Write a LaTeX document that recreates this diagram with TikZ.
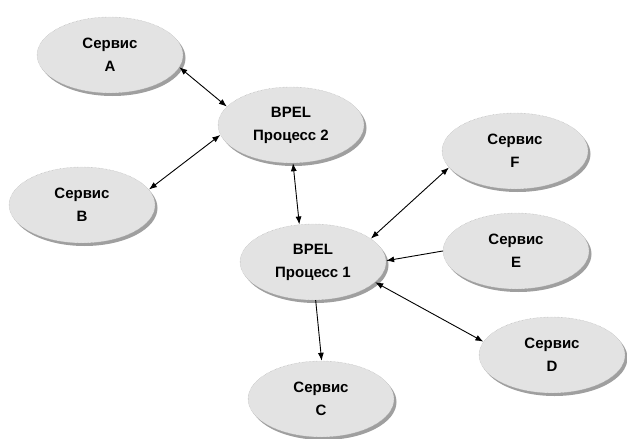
\documentclass[tikz,border=0pt]{standalone}
\usepackage{fontspec}
\setmainfont{Liberation Sans}
\usetikzlibrary{positioning}
\usetikzlibrary{shapes.geometric}
\usetikzlibrary{shadows}
\usetikzlibrary{arrows.meta}
\tikzstyle{srvnode} = [draw=gray!70, densely dotted, ellipse, fill=gray!22, minimum width=146pt, minimum height=76pt, align=center, font=\bfseries\fontsize{15}{23}\selectfont, drop shadow={shadow xshift=2.5pt, shadow yshift=-3pt, fill=gray!75, opacity=1}]
\tikzstyle{link} = [line width=0.9pt, {Latex[length=8pt,width=6pt]}-{Latex[length=8pt,width=6pt]}]
\tikzstyle{onelink} = [line width=0.9pt, -{Latex[length=8pt,width=6pt]}]

\begin{document}
\begin{tikzpicture}[x=1pt, y=1pt]
  \useasboundingbox (0,0) rectangle (627,-439);

  \node[srvnode] (a) at (110,-55) {Сервис\\A};
  \node[srvnode] (b) at (82,-205) {Сервис\\B};
  \node[srvnode] (proc2) at (291,-125) {BPEL\\Процесс 2};
  \node[srvnode] (proc1) at (313,-262) {BPEL\\Процесс 1};
  \node[srvnode] (f) at (515,-151) {Сервис\\F};
  \node[srvnode] (e) at (516,-251) {Сервис\\E};
  \node[srvnode] (d) at (552,-355) {Сервис\\D};
  \node[srvnode] (c) at (321,-399) {Сервис\\C};

  \draw[link] (a.-10) -- (proc2.164);
  \draw[link] (b.13) -- (proc2.-172);
  \draw[link] (proc2.-87) -- (proc1.110);
  \draw[link] (f.-166) -- (proc1.22);
  \draw[onelink] (e.180) -- (proc1.1);
  \draw[link] (d.169) -- (proc1.-18);
  \draw[onelink] (proc1.-86) -- (c.89);
\end{tikzpicture}
\end{document}
